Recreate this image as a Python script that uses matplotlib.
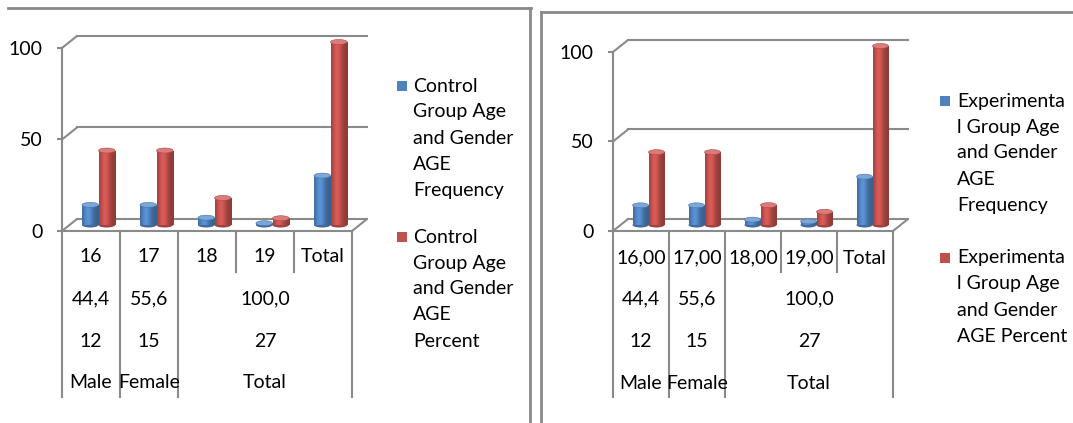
import matplotlib.pyplot as plt
import numpy as np
from matplotlib import transforms
from matplotlib.patches import Ellipse, Rectangle, ConnectionPatch
from matplotlib.lines import Line2D

plt.rcParams['font.family'] = ['Lato', 'DejaVu Sans']

# category table under the bars
ages_ctrl = ['16', '17', '18', '19', 'Total']
ages_exp = ['16,00', '17,00', '18,00', '19,00', 'Total']
gender = ['Male', 'Female', 'Total']
gender_pct = ['44,4', '55,6', '100,0']
gender_n = ['12', '15', '27']

# series
ctrl_freq = [11, 11, 4, 1, 27]
ctrl_pct = [40.7, 40.7, 14.8, 3.7, 100.0]
exp_freq = [11, 11, 3, 2, 27]
exp_pct = [40.7, 40.7, 11.1, 7.4, 100.0]

ctrl_names = [['Control', 'Group Age', 'and Gender', 'AGE', 'Frequency'],
              ['Control', 'Group Age', 'and Gender', 'AGE', 'Percent']]
exp_names = [['Experimenta', 'l Group Age', 'and Gender', 'AGE', 'Frequency'],
             ['Experimenta', 'l Group Age', 'and Gender', 'AGE Percent']]

W, H, DPI = 1073, 423, 100
GRAY = '#8a8a8a'
BLUE = np.array([0x4F, 0x81, 0xBD]) / 255
RED = np.array([0xC0, 0x50, 0x4D]) / 255
FS = 14

fig = plt.figure(figsize=(W / DPI, H / DPI), dpi=DPI)


def fy(py):
    return 1 - py / H


def shading(base, n=48):
    t = np.linspace(0, 1, n)
    f = 0.74 + 0.40 * np.exp(-((t - 0.36) / 0.30) ** 2)
    rgb = np.clip(base[None, :] * f[:, None], 0, 1)
    return rgb[None, :, :]


def cylinder(ax, xc, h, base, trans, w, eh):
    dark = np.clip(base * 0.82, 0, 1)
    top = np.clip(base * 0.85 + 0.22, 0, 1)
    ax.add_patch(Ellipse((xc, 0), w, eh, transform=trans, fc=dark, ec='none',
                         zorder=3, clip_on=False))
    body = Rectangle((xc - w / 2, 0), w, h, transform=trans, fc=base, ec='none',
                     zorder=3, clip_on=False)
    ax.add_patch(body)
    img = ax.imshow(shading(base), extent=(xc - w / 2, xc + w / 2, 0, h),
                    transform=trans, aspect='auto', interpolation='bilinear',
                    zorder=3.1)
    img.set_clip_path(body)
    ax.add_patch(Ellipse((xc, h), w, eh, transform=trans, fc=top,
                         ec=np.clip(base * 0.9, 0, 1), lw=0.4, zorder=3.2,
                         clip_on=False))


def panel(x0, x1, y0, y100, freq, pct, ages, names, leg_sq, leg_tx, leg_y, rows):
    ax = fig.add_axes([x0 / W, fy(y0), (x1 - x0) / W, (y0 - y100) / H])
    ax.set_xlim(0, 5)
    ax.set_ylim(0, 100)
    ax.patch.set_visible(False)
    for s in ('top', 'right', 'bottom'):
        ax.spines[s].set_visible(False)
    ax.spines['left'].set_color(GRAY)
    ax.spines['left'].set_linewidth(1.5)
    ax.set_xticks([])
    ax.set_yticks([0, 50, 100])
    ax.tick_params(axis='y', length=3.6, width=1.5, color=GRAY, pad=10.5,
                   labelsize=FS)

    back = ax.transData + transforms.ScaledTranslation(15 / DPI, 12 / DPI,
                                                      fig.dpi_scale_trans)
    mid = ax.transData + transforms.ScaledTranslation(7.5 / DPI, 6 / DPI,
                                                     fig.dpi_scale_trans)

    # walls and floor
    for v in (0, 50, 100):
        ax.plot([0, 5], [v, v], transform=back, color=GRAY, lw=1.5,
                clip_on=False, zorder=1)
        ax.add_artist(ConnectionPatch((0, v), (0, v), ax.transData, back,
                                      color=GRAY, lw=1.5, zorder=1))
    ax.plot([0, 5], [0, 0], color=GRAY, lw=1.5, clip_on=False, zorder=2)
    ax.add_artist(ConnectionPatch((5, 0), (5, 0), ax.transData, back,
                                  color=GRAY, lw=1.5, zorder=2))

    # cylinders
    p0 = ax.transData.transform((0, 0))
    p1 = ax.transData.transform((0, 1))
    eh = 5 / (p1[1] - p0[1])
    w = 0.285
    for i, (f, p) in enumerate(zip(freq, pct)):
        cylinder(ax, i + 0.5 - w / 2, f, BLUE, mid, w, eh)
        cylinder(ax, i + 0.5 + w / 2, p, RED, mid, w, eh)
    ax.set_xlim(0, 5)
    ax.set_ylim(0, 100)

    # category table
    tb = transforms.blended_transform_factory(ax.transData, fig.transFigure)
    for b in range(6):
        end = 397 if b in (0, 1, 2, 5) else 272
        ax.plot([b, b], [fy(y0), fy(end)], transform=tb, color=GRAY, lw=1.5,
                clip_on=False)
    for i, a in enumerate(ages):
        ax.text(i + 0.5, fy(rows[0]), a, transform=tb, ha='center',
                va='center', fontsize=FS)
    for gx, pc, n, g in zip([0.5, 1.5, 3.5], gender_pct, gender_n, gender):
        ax.text(gx, fy(rows[1]), pc, transform=tb, ha='center', va='center',
                fontsize=FS)
        ax.text(gx, fy(rows[2]), n, transform=tb, ha='center', va='center',
                fontsize=FS)
        ax.text(gx, fy(rows[3]), g, transform=tb, ha='center', va='center',
                fontsize=FS)

    # legend
    for col, lines, ly in zip((BLUE, RED), names, leg_y):
        fig.add_artist(Rectangle((leg_sq / W, fy(ly + 5)), 10 / W, 10 / H,
                                 transform=fig.transFigure, fc=col, ec='none'))
        for k, line in enumerate(lines):
            fig.text(leg_tx / W, fy(ly + 26 * k), line, va='center',
                     fontsize=FS)
    return ax


panel(62, 352, 231, 48, ctrl_freq, ctrl_pct, ages_ctrl, ctrl_names,
      397, 413, (86, 237), (257, 299, 341, 382))
panel(613, 893, 231, 52, exp_freq, exp_pct, ages_exp, exp_names,
      940, 957, (101, 258), (258, 299, 341, 383))

# frame edges of the two chart areas
for xs, ys in (([8, 531], [8, 8]), ([530, 530], [8, H]),
               ([541, W], [12, 12]), ([541, 541], [12, H])):
    fig.add_artist(Line2D([x / W for x in xs], [fy(y) for y in ys],
                          transform=fig.transFigure, color=GRAY, lw=2))

fig.savefig('out.png', dpi=DPI)
